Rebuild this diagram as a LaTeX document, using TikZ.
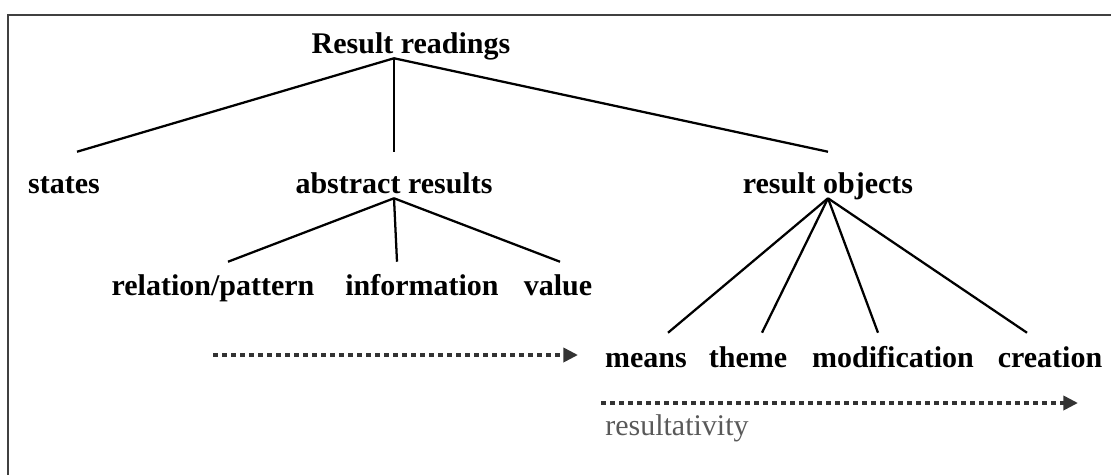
\documentclass[tikz,border=0pt]{standalone}
\usepackage{fontspec}
\setmainfont{Liberation Serif}
\usetikzlibrary{calc}
\usetikzlibrary{arrows.meta}
\usetikzlibrary{positioning}

\begin{document}
\begin{tikzpicture}[
  x=0.75pt, y=-0.75pt,
  every node/.style={anchor=base, inner sep=0, text height=16.5pt, text depth=3.75pt},
  lbl/.style={font=\fontsize{22.5}{27}\selectfont\bfseries},
  note/.style={font=\fontsize{22.5}{27}\selectfont, text=black!65},
  branch/.style={line width=1.7pt},
  frame/.style={line width=1.7pt, draw=black!75},
  dotarrow/.style={draw=black!80, line width=3.4pt, dash pattern=on 3.4pt off 3.35pt,
    -{Triangle[length=11pt,width=10.5pt]}}
  ]
    \useasboundingbox (0,0) rectangle (1111,475);
    \draw[frame] (8,475) -- (8,15) -- (1111,15);
    % top level
    \node[lbl](root) at (411,53){Result readings};
    \node[lbl](states) at (64,193){states};
    \node[lbl](abstr) at (394,193){abstract results};
    \node[lbl](resobj) at (828,193){result objects};
    \draw[branch] (root.south -| abstr) -- ($(states.north)+(13,-19)$);
    \draw[branch] (root.south -| abstr) -- ($(abstr.north)+(0,-19)$);
    \draw[branch] (root.south -| abstr) -- ($(resobj.north)+(0,-19)$);
    % abstract results
    \node[lbl](relpat) at (213,295){relation/pattern};
    \node[lbl](info) at (422,295){information};
    \node[lbl](value) at (558,295){value};
    \draw[branch] (abstr.south) -- ($(relpat.north)+(15,-11)$);
    \draw[branch] (abstr.south) -- ($(info.north)+(-25,-11)$);
    \draw[branch] (abstr.south) -- ($(value.north)+(2,-11)$);
    % result objects
    \node[lbl](means) at (646,367){means};
    \node[lbl](theme) at (748,367){theme};
    \node[lbl](modif) at (893,367){modification};
    \node[lbl](creation) at (1050,367){creation};
    \draw[branch] (resobj.south) -- ($(means.north)+(22,-12)$);
    \draw[branch] (resobj.south) -- ($(theme.north)+(14,-12)$);
    \draw[branch] (resobj.south) -- ($(modif.north)+(-15,-12)$);
    \draw[branch] (resobj.south) -- ($(creation.north)+(-23,-12)$);
    % scales
    \coordinate (absfrom) at (213,355);
    \coordinate (absto) at (578,355);
    \coordinate (objfrom) at (601,403);
    \coordinate (objto) at (1078,403);
    \draw[dotarrow] (absfrom) -- (absto);
    \draw[dotarrow] (objfrom) -- (objto);
    \node[note, anchor=base west](resnote) at (605,435){resultativity};
  \end{tikzpicture}
\end{document}
